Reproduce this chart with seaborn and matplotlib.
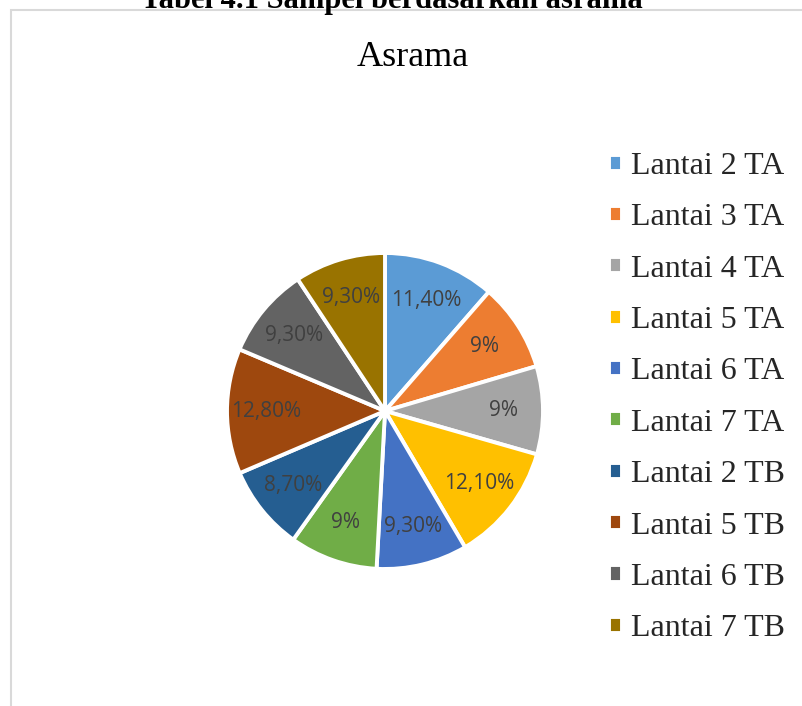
import matplotlib
matplotlib.use("Agg")
import matplotlib.pyplot as plt
from matplotlib.patches import Rectangle
import seaborn as sns
import numpy as np

# data
categories = ["Lantai 2 TA", "Lantai 3 TA", "Lantai 4 TA", "Lantai 5 TA", "Lantai 6 TA",
              "Lantai 7 TA", "Lantai 2 TB", "Lantai 5 TB", "Lantai 6 TB", "Lantai 7 TB"]
values = [11.4, 9, 9, 12.1, 9.3, 9, 8.7, 12.8, 9.3, 9.3]
value_labels = ["11,40%", "9%", "9%", "12,10%", "9,30%", "9%", "8,70%", "12,80%", "9,30%", "9,30%"]
colors = ["#5b9bd5", "#ed7d31", "#a5a5a5", "#ffc000", "#4472c4",
          "#70ad47", "#255e91", "#9e480e", "#636363", "#997300"]

sns.set_theme(style="white")
plt.rcParams["font.family"] = ["Liberation Serif", "DejaVu Serif"]

W, H = 803, 706
fig = plt.figure(figsize=(W / 100, H / 100), dpi=100)

# chart frame (cut off at right/bottom like the screenshot)
fig.add_artist(Rectangle((11 / W, -0.05), 1.1, 1 - 10 / H + 0.05, transform=fig.transFigure,
                         fill=False, edgecolor="#d9d9d9", linewidth=1.5))

# heading above the chart, cut off at the top as in the screenshot
fig.text(392 / W, 1 - 8 / H, "Tabel 4.1 Sampel berdasarkan asrama", ha="center", va="baseline",
         fontsize=22, fontweight="bold", color="black")

fig.text(413 / W, 1 - 58 / H, "Asrama", ha="center", va="center", fontsize=26, color="black")

cx, cy, r = 385, 411, 158
ax = fig.add_axes([(cx - r) / W, 1 - (cy + r) / H, 2 * r / W, 2 * r / H])
wedges, _ = ax.pie(values, colors=colors, startangle=90, counterclock=False,
                   wedgeprops=dict(edgecolor="white", linewidth=2.8))
ax.set_xlim(-1, 1)
ax.set_ylim(-1, 1)
ax.set_aspect("equal")
ax.axis("off")

for w, lab in zip(wedges, value_labels):
    ang = np.deg2rad((w.theta1 + w.theta2) / 2)
    ax.text(0.75 * np.cos(ang), 0.75 * np.sin(ang), lab, ha="center", va="center",
            fontsize=15, color="#404040", family=["Open Sans", "DejaVu Sans"])

fig.legend(wedges, categories, loc="upper left", bbox_to_anchor=(609 / W, 1 - 152 / H),
           frameon=False, fontsize=23, handlelength=0.4, handleheight=0.4,
           handletextpad=0.3, labelspacing=0.7, borderpad=0, borderaxespad=0)

fig.savefig("out.png", dpi=100)
